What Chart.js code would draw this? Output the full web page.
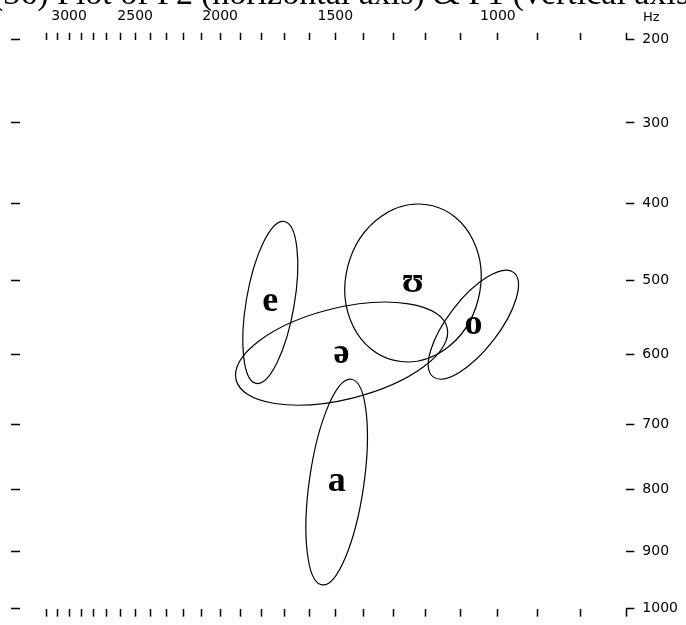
<!DOCTYPE html>
<html>
<head>
<meta charset="utf-8">
<title>F1 / F2 vowel plot</title>
<script src="https://cdn.jsdelivr.net/npm/chart.js@4.4.1/dist/chart.umd.min.js"></script>
<style>
  html, body { margin: 0; padding: 0; background: #fff; }
  #chart { display: block; }
</style>
</head>
<body>
<canvas id="chart" width="686" height="625"></canvas>
<script>
// vowel ellipses, all values in Hz (F2 across, F1 down)
var vowels   = ['e', 'ʊ', 'o', 'ə', 'a'];
var f2Centre = [1762, 1239, 1065, 1477, 1495];
var f1Centre = [529, 503, 559, 599, 788];
// one end of the long axis of each ellipse
var f2Major  = [1702, 1180, 960, 1138, 1442];
var f1Major  = [423, 403, 489, 563, 635];
// one end of the short axis
var f2Minor  = [1661, 1052, 1011, 1438, 1399];
var f1Minor  = [534, 525, 580, 662, 794];

var f2Ticks  = [3200, 3100, 3000, 2900, 2800, 2700, 2600, 2500, 2400, 2300, 2200, 2100, 2000,
                1900, 1800, 1700, 1600, 1500, 1400, 1300, 1200, 1100, 1000, 900, 800, 700];
var f2Labels = [3000, 2500, 2000, 1500, 1000];
var f1Ticks  = [200, 300, 400, 500, 600, 700, 800, 900, 1000];

// heading pieces (only their lower edge is inside the picture)
var titleParts = ['(36)', 'Plot of F2', '(horizontal axis) & F1 (vertical axis)'];

// both axes are spaced in Bark
function bark(f) {
  return 13 * Math.atan(0.00076 * f) + 3.5 * Math.atan(Math.pow(f / 7500, 2));
}
function hzFromBark(z) {
  var lo = 0, hi = 20000;
  for (var i = 0; i < 60; i++) {
    var mid = (lo + hi) / 2;
    if (bark(mid) < z) lo = mid; else hi = mid;
  }
  return (lo + hi) / 2;
}

class BarkScale extends Chart.LinearScale {
  configure() {
    super.configure();
    this._zStart = bark(this.min);
    this._zRange = bark(this.max) - this._zStart;
  }
  getPixelForValue(value) {
    if (value === null || isNaN(value)) return NaN;
    return this.getPixelForDecimal((bark(value) - this._zStart) / this._zRange);
  }
  getValueForPixel(pixel) {
    return hzFromBark(this._zStart + this.getDecimalForPixel(pixel) * this._zRange);
  }
}
BarkScale.id = 'bark';
BarkScale.defaults = Chart.LinearScale.defaults;
Chart.register(BarkScale);

var tickFont = { family: 'DejaVu Sans', size: 14 };

function barkAxis(pos, min, max, ticks, tickLen, showLabels, labelFn) {
  return {
    type: 'bark',
    position: pos,
    min: min,
    max: max,
    reverse: true,
    bounds: 'data',
    afterBuildTicks: function(scale) {
      scale.ticks = ticks.map(function(v) { return { value: v }; });
    },
    ticks: {
      display: showLabels,
      autoSkip: false,
      maxRotation: 0,
      minRotation: 0,
      padding: 8,
      color: '#000',
      font: tickFont,
      callback: labelFn
    },
    grid: {
      drawOnChartArea: false,
      drawTicks: true,
      tickLength: tickLen,
      tickColor: '#000',
      tickWidth: 1.5
    },
    border: { display: false }
  };
}

var ellipsePlugin = {
  id: 'ellipses',
  afterDatasetsDraw: function(chart) {
    var ctx = chart.ctx;
    var xs = chart.scales.x, ys = chart.scales.y;
    ctx.save();
    ctx.strokeStyle = '#000';
    ctx.lineWidth = 1.2;
    for (var i = 0; i < vowels.length; i++) {
      var cx = xs.getPixelForValue(f2Centre[i]), cy = ys.getPixelForValue(f1Centre[i]);
      var px = xs.getPixelForValue(f2Major[i]), py = ys.getPixelForValue(f1Major[i]);
      var qx = xs.getPixelForValue(f2Minor[i]), qy = ys.getPixelForValue(f1Minor[i]);
      ctx.save();
      ctx.beginPath();
      ctx.transform(px - cx, py - cy, qx - cx, qy - cy, cx, cy);
      ctx.arc(0, 0, 1, 0, Math.PI * 2);
      ctx.restore();
      ctx.stroke();
    }
    ctx.fillStyle = '#000';
    ctx.font = 'bold 36px "Liberation Serif", "DejaVu Serif", serif';
    ctx.textAlign = 'center';
    ctx.textBaseline = 'alphabetic';
    for (var j = 0; j < vowels.length; j++) {
      ctx.fillText(vowels[j], xs.getPixelForValue(f2Centre[j]), ys.getPixelForValue(f1Centre[j]) + 9);
    }
    ctx.restore();
  },
  afterDraw: function(chart) {
    var ctx = chart.ctx, area = chart.chartArea;
    ctx.save();
    ctx.fillStyle = '#000';
    // unit next to the top axis
    ctx.font = '13px "DejaVu Sans"';
    ctx.textAlign = 'center';
    ctx.textBaseline = 'bottom';
    ctx.fillText('Hz', area.right + 25, area.top - 16);
    // heading, cut by the top edge
    ctx.font = '34px "Liberation Serif", serif';
    ctx.textAlign = 'left';
    ctx.textBaseline = 'alphabetic';
    var starts = [-8, 57, 201];
    for (var k = 0; k < titleParts.length; k++) {
      ctx.fillText(titleParts[k], starts[k], 4);
    }
    ctx.restore();
  }
};

var points = vowels.map(function(v, i) { return { x: f2Centre[i], y: f1Centre[i] }; });

new Chart(document.getElementById('chart'), {
  type: 'scatter',
  data: {
    datasets: [{ label: 'vowels', data: points, pointRadius: 0, xAxisID: 'x', yAxisID: 'y' }]
  },
  options: {
    responsive: false,
    animation: false,
    devicePixelRatio: 1,
    events: [],
    layout: { padding: { left: 11, right: 0, top: 0, bottom: 5 } },
    plugins: {
      legend: { display: false },
      tooltip: { enabled: false },
      title: { display: false }
    },
    scales: {
      x: barkAxis('top', 700, 3450, f2Ticks, 7, true, function(v) {
        return f2Labels.indexOf(v) >= 0 ? String(v) : '';
      }),
      x2: barkAxis('bottom', 700, 3450, f2Ticks, 8, false),
      y: barkAxis('right', 200, 1000, f1Ticks, 8, true, function(v) { return String(v); }),
      y2: barkAxis('left', 200, 1000, f1Ticks, 9, false)
    }
  },
  plugins: [ellipsePlugin]
});
</script>
</body>
</html>
